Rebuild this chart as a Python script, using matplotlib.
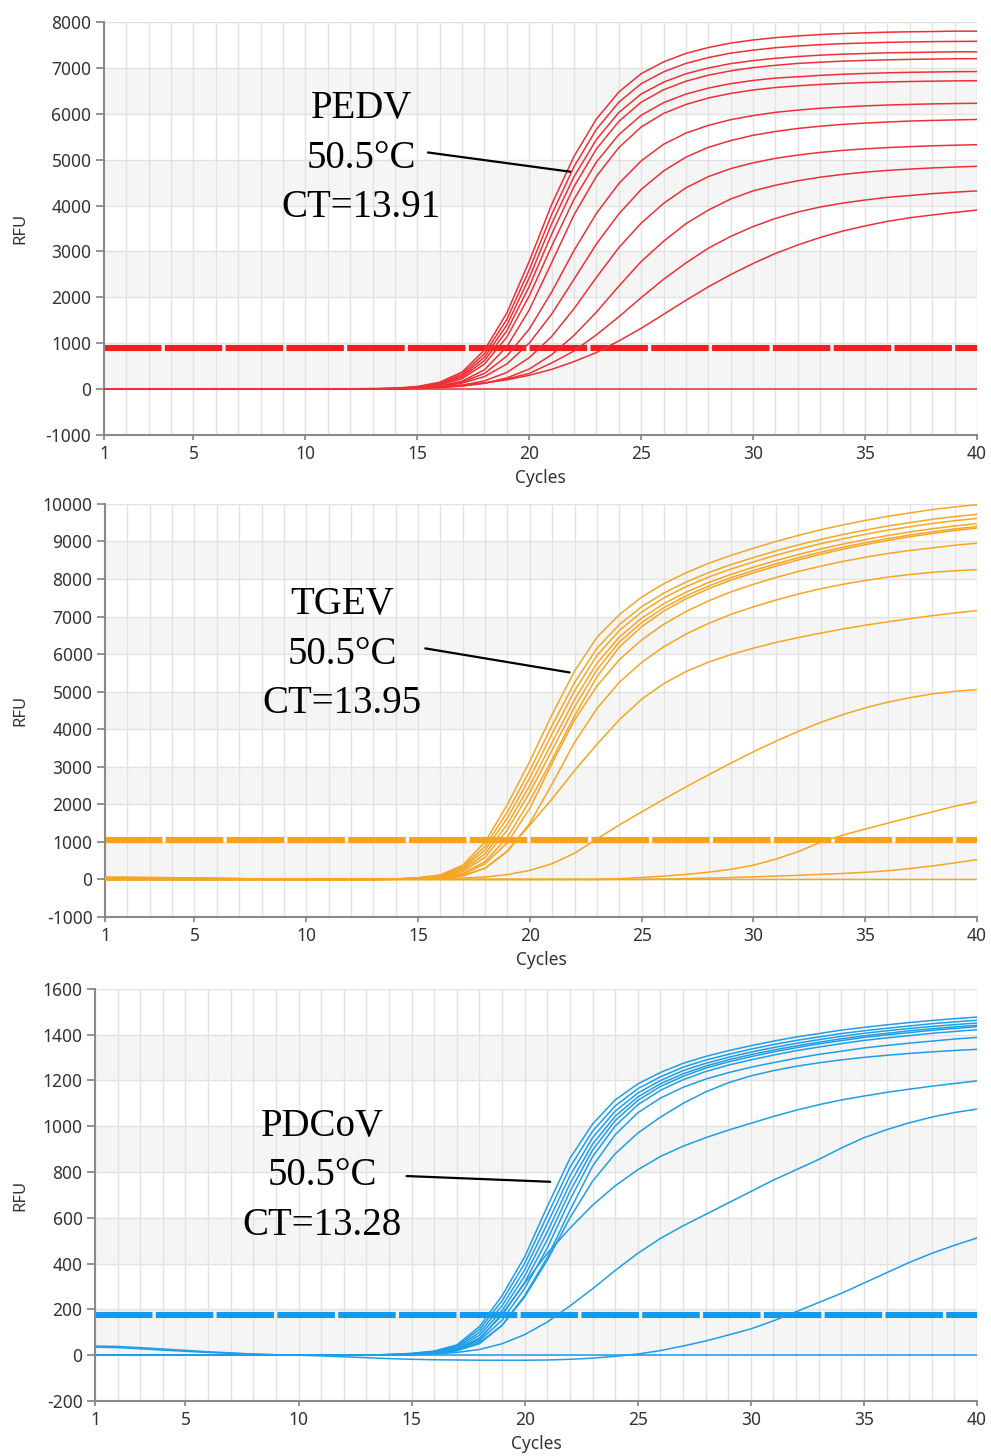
import matplotlib
matplotlib.use('Agg')
import matplotlib.pyplot as plt

plt.rcParams['font.family'] = ['Noto Sans', 'DejaVu Sans']
plt.rcParams['axes.unicode_minus'] = False

cycles = list(range(1, 41))

# PEDV amplification curves (RFU per cycle)
pedv_curves = [
    [0, 0, 0, 0, 0, 0, 0, 0, 0, 0, 0, 0, 5, 20, 58, 151, 373, 855, 1660, 2787, 4021, 5072, 5886, 6474, 6874, 7130, 7316, 7444, 7540, 7608, 7659, 7696, 7726, 7748, 7764, 7778, 7786, 7792, 7800, 7800],
    [0, 0, 0, 0, 0, 0, 0, 0, 0, 0, 0, 0, 4, 17, 50, 133, 331, 772, 1521, 2598, 3805, 4848, 5662, 6252, 6655, 6913, 7098, 7225, 7321, 7387, 7439, 7476, 7506, 7528, 7542, 7557, 7565, 7572, 7576, 7580],
    [0, 0, 0, 0, 0, 0, 0, 0, 0, 0, 0, 0, 4, 15, 44, 118, 294, 698, 1397, 2426, 3602, 4631, 5439, 6027, 6431, 6689, 6872, 6997, 7093, 7159, 7210, 7247, 7277, 7299, 7313, 7328, 7335, 7343, 7350, 7350],
    [0, 0, 0, 0, 0, 0, 0, 0, 0, 0, 0, 0, 3, 12, 39, 104, 262, 624, 1271, 2239, 3377, 4414, 5234, 5832, 6253, 6523, 6710, 6840, 6936, 7006, 7056, 7097, 7124, 7147, 7162, 7176, 7185, 7192, 7199, 7200],
    [0, 0, 0, 0, 0, 0, 0, 0, 0, 0, 0, 0, 3, 11, 33, 90, 228, 547, 1135, 2031, 3114, 4135, 4948, 5546, 5968, 6242, 6429, 6560, 6657, 6726, 6778, 6806, 6837, 6861, 6878, 6892, 6903, 6910, 6917, 6920],
    [0, 0, 0, 0, 0, 0, 0, 0, 0, 0, 0, 0, 3, 9, 24, 67, 175, 423, 927, 1727, 2755, 3797, 4637, 5262, 5712, 6008, 6203, 6344, 6444, 6518, 6572, 6609, 6639, 6662, 6680, 6693, 6703, 6710, 6717, 6720],
    [0, 0, 0, 0, 0, 0, 0, 0, 0, 0, 0, 0, 3, 10, 25, 63, 152, 344, 721, 1310, 2115, 3021, 3828, 4480, 4973, 5335, 5579, 5747, 5872, 5961, 6031, 6080, 6120, 6148, 6172, 6190, 6204, 6215, 6223, 6229],
    [0, 0, 0, 0, 0, 0, 0, 0, 0, 0, 0, 0, 3, 10, 25, 58, 131, 274, 549, 1003, 1634, 2395, 3162, 3817, 4351, 4755, 5056, 5269, 5416, 5531, 5614, 5680, 5729, 5769, 5797, 5821, 5841, 5855, 5866, 5876],
    [0, 0, 0, 0, 0, 0, 0, 0, 0, 0, 0, 0, 3, 8, 17, 40, 85, 181, 364, 686, 1147, 1753, 2435, 3082, 3618, 4047, 4387, 4631, 4806, 4931, 5029, 5101, 5158, 5202, 5237, 5263, 5284, 5302, 5315, 5326],
    [0, 0, 0, 0, 0, 0, 0, 0, 0, 0, 0, 0, 3, 7, 15, 32, 66, 128, 245, 438, 751, 1171, 1678, 2244, 2780, 3223, 3606, 3902, 4143, 4320, 4443, 4541, 4619, 4679, 4728, 4766, 4795, 4820, 4839, 4856],
    [0, 0, 0, 0, 0, 0, 0, 0, 0, 0, 0, 2, 6, 12, 23, 42, 74, 131, 221, 343, 570, 832, 1184, 1575, 1994, 2394, 2750, 3071, 3329, 3542, 3720, 3860, 3969, 4054, 4121, 4178, 4219, 4260, 4292, 4319],
    [0, 0, 0, 0, 0, 0, 0, 0, 0, 0, 4, 8, 14, 23, 37, 58, 90, 137, 203, 302, 431, 601, 798, 1050, 1326, 1630, 1936, 2230, 2497, 2738, 2957, 3142, 3305, 3444, 3557, 3656, 3734, 3795, 3851, 3902],
    [0, 0, 0, 0, 0, 0, 0, 0, 0, 0, 0, 0, 0, 0, 0, 0, 0, 0, 0, 0, 0, 0, 0, 0, 0, 0, 0, 0, 0, 0, 0, 0, 0, 0, 0, 0, 0, 0, 0, 0],
]

# TGEV amplification curves
tgev_curves = [
    [0, 0, 0, 0, 0, 0, 0, 0, 0, 0, 0, 0, 0, 15, 45, 120, 380, 1000, 2000, 3150, 4400, 5550, 6450, 7050, 7520, 7880, 8170, 8420, 8630, 8820, 9000, 9160, 9310, 9440, 9560, 9670, 9760, 9850, 9920, 9980],
    [0, 0, 0, 0, 0, 0, 0, 0, 0, 0, 0, 0, 0, 12, 39, 106, 332, 884, 1804, 2903, 4107, 5243, 6157, 6786, 7263, 7630, 7923, 8173, 8384, 8572, 8749, 8908, 9055, 9185, 9303, 9412, 9503, 9591, 9662, 9722],
    [0, 0, 0, 0, 0, 0, 0, 0, 0, 0, 0, 0, 0, 10, 35, 94, 291, 786, 1641, 2707, 3884, 5023, 5964, 6630, 7121, 7500, 7800, 8053, 8267, 8456, 8633, 8793, 8941, 9072, 9191, 9300, 9392, 9479, 9553, 9613],
    [0, 0, 0, 0, 0, 0, 0, 0, 0, 0, 0, 0, 0, 8, 30, 82, 250, 686, 1476, 2506, 3653, 4791, 5755, 6455, 6958, 7348, 7654, 7909, 8126, 8315, 8491, 8652, 8799, 8931, 9050, 9159, 9253, 9339, 9414, 9475],
    [0, 0, 0, 0, 0, 0, 0, 0, 0, 0, 0, 0, 0, 6, 26, 71, 212, 593, 1323, 2325, 3449, 4593, 5585, 6322, 6840, 7242, 7556, 7815, 8036, 8227, 8403, 8565, 8713, 8847, 8966, 9076, 9172, 9257, 9335, 9397],
    [0, 0, 0, 0, 0, 0, 0, 0, 0, 0, 0, 0, 0, 3, 20, 57, 162, 475, 1130, 2101, 3203, 4361, 5398, 6189, 6730, 7152, 7478, 7743, 7971, 8165, 8342, 8508, 8657, 8795, 8915, 9026, 9126, 9211, 9292, 9356],
    [0, 0, 0, 0, 0, 0, 0, 0, 0, 0, 0, 0, 0, 5, 15, 45, 130, 420, 980, 1900, 3100, 4250, 5150, 5850, 6380, 6800, 7140, 7420, 7660, 7860, 8040, 8200, 8340, 8470, 8580, 8680, 8760, 8830, 8900, 8955],
    [0, 0, 0, 0, 0, 0, 0, 0, 0, 0, 0, 0, 0, 4, 12, 35, 100, 300, 750, 1500, 2550, 3650, 4550, 5250, 5780, 6200, 6540, 6820, 7060, 7260, 7440, 7600, 7740, 7860, 7960, 8050, 8120, 8180, 8220, 8250],
    [0, 0, 0, 0, 0, 0, 0, 0, 0, 0, 0, 0, 0, 3, 10, 30, 90, 300, 760, 1450, 2150, 2900, 3600, 4250, 4800, 5220, 5540, 5790, 5990, 6160, 6310, 6440, 6560, 6670, 6770, 6860, 6945, 7025, 7095, 7160],
    [0, 0, 0, 0, 0, 0, 0, 0, 0, 0, 0, 0, 0, 5, 10, 20, 35, 65, 130, 240, 420, 700, 1080, 1450, 1800, 2140, 2470, 2790, 3100, 3400, 3680, 3940, 4180, 4390, 4570, 4720, 4840, 4940, 5010, 5055],
    [55, 52, 48, 42, 35, 27, 19, 12, 6, 2, 0, 0, 0, 0, 0, 0, 0, 0, 0, 0, 0, 0, 0, 20, 50, 90, 135, 195, 270, 380, 540, 740, 990, 1180, 1340, 1500, 1650, 1800, 1950, 2070],
    [60, 57, 53, 47, 40, 32, 24, 16, 9, 4, 1, 0, 0, 0, 0, 0, 0, 0, 0, 0, 0, 0, 0, 0, 0, 10, 20, 35, 50, 70, 90, 110, 135, 160, 190, 230, 290, 360, 440, 530],
    [50, 48, 45, 40, 34, 27, 20, 13, 7, 3, 0, 0, 0, 0, 0, 0, 0, 0, 0, 0, 0, 0, 0, 0, 0, 0, 0, 0, 0, 0, 0, 0, 0, 0, 0, 0, 0, 0, 0, 0],
]

# PDCoV amplification curves
pdcov_curves = [
    [0, 0, 0, 0, 0, 0, 0, 0, 0, 0, 0, 0, 0, 3, 8, 18, 45, 125, 260, 430, 650, 860, 1010, 1115, 1185, 1235, 1275, 1305, 1330, 1352, 1372, 1390, 1405, 1420, 1432, 1443, 1453, 1462, 1470, 1477],
    [0, 0, 0, 0, 0, 0, 0, 0, 0, 0, 0, 0, 0, 3, 7, 16, 41, 112, 238, 401, 611, 821, 979, 1089, 1164, 1216, 1258, 1289, 1314, 1337, 1357, 1375, 1390, 1405, 1417, 1428, 1438, 1448, 1456, 1463],
    [0, 0, 0, 0, 0, 0, 0, 0, 0, 0, 0, 0, 0, 2, 6, 15, 36, 99, 216, 373, 575, 784, 950, 1066, 1145, 1200, 1243, 1275, 1301, 1324, 1344, 1362, 1378, 1393, 1406, 1417, 1427, 1436, 1444, 1451],
    [0, 0, 0, 0, 0, 0, 0, 0, 0, 0, 0, 0, 0, 2, 6, 13, 32, 87, 195, 346, 539, 749, 922, 1044, 1128, 1186, 1229, 1263, 1290, 1313, 1333, 1351, 1367, 1382, 1395, 1406, 1417, 1426, 1434, 1441],
    [0, 0, 0, 0, 0, 0, 0, 0, 0, 0, 0, 0, 0, 1, 5, 12, 28, 75, 174, 319, 505, 715, 896, 1025, 1113, 1174, 1218, 1254, 1281, 1304, 1325, 1343, 1360, 1374, 1388, 1399, 1409, 1419, 1427, 1435],
    [0, 0, 0, 0, 0, 0, 0, 0, 0, 0, 0, 0, 0, 1, 4, 10, 24, 63, 153, 292, 469, 679, 867, 1001, 1094, 1157, 1203, 1239, 1267, 1290, 1311, 1330, 1346, 1361, 1375, 1386, 1396, 1406, 1414, 1422],
    [0, 0, 0, 0, 0, 0, 0, 0, 0, 0, 0, 0, 0, 0, 3, 8, 20, 50, 131, 261, 427, 633, 826, 963, 1059, 1123, 1170, 1206, 1234, 1258, 1278, 1297, 1314, 1328, 1342, 1353, 1363, 1372, 1381, 1388],
    [0, 0, 0, 0, 0, 0, 0, 0, 0, 0, 0, 0, 0, 1, 3, 8, 20, 55, 130, 255, 415, 600, 760, 880, 970, 1040, 1100, 1150, 1190, 1220, 1243, 1262, 1277, 1290, 1301, 1310, 1318, 1325, 1331, 1336],
    [0, 0, 0, 0, 0, 0, 0, 0, 0, 0, 0, 0, 0, 1, 3, 9, 25, 70, 180, 315, 445, 555, 655, 740, 810, 868, 913, 950, 983, 1013, 1043, 1070, 1094, 1115, 1132, 1148, 1162, 1175, 1187, 1198],
    [35, 33, 28, 22, 17, 12, 8, 4, 2, 0, 0, 0, 0, 0, 2, 5, 12, 25, 50, 90, 145, 215, 290, 370, 445, 510, 565, 615, 665, 715, 765, 810, 855, 905, 950, 985, 1015, 1040, 1060, 1075],
    [40, 38, 33, 27, 21, 15, 10, 5, 2, 0, -3, -7, -11, -15, -18, -20, -21, -22, -22, -22, -21, -18, -13, -5, 5, 20, 40, 62, 88, 115, 150, 190, 230, 270, 315, 360, 405, 445, 480, 512],
    [0, 0, 0, 0, 0, 0, 0, 0, 0, 0, 0, 0, 0, 0, 0, 0, 0, 0, 0, 0, 0, 0, 0, 0, 0, 0, 0, 0, 0, 0, 0, 0, 0, 0, 0, 0, 0, 0, 0, 0],
]

thresholds = [900, 1050, 175]
x_ticks = [1, 5, 10, 15, 20, 25, 30, 35, 40]
y_ticks_pedv = [-1000, 0, 1000, 2000, 3000, 4000, 5000, 6000, 7000, 8000]
y_ticks_tgev = [-1000, 0, 1000, 2000, 3000, 4000, 5000, 6000, 7000, 8000, 9000, 10000]
y_ticks_pdcov = [-200, 0, 200, 400, 600, 800, 1000, 1200, 1400, 1600]
labels = ['PEDV\n50.5°C\nCT=13.91', 'TGEV\n50.5°C\nCT=13.95', 'PDCoV\n50.5°C\nCT=13.28']

# layout / style per panel
panels = [
    dict(curves=pedv_curves, yticks=y_ticks_pedv, rect=[0.1049, 0.7012, 0.8809, 0.2837],
         color='#ee3036', thr_color='#f01e1e', text_xy=(12.5, 5035),
         line=((15.35, 5165), (21.95, 4730))),
    dict(curves=tgev_curves, yticks=y_ticks_tgev, rect=[0.1060, 0.3702, 0.8799, 0.2837],
         color='#f6a623', thr_color='#f8a11a', text_xy=(11.6, 6000),
         line=((15.2, 6165), (21.9, 5500))),
    dict(curves=pdcov_curves, yticks=y_ticks_pdcov, rect=[0.0959, 0.0378, 0.8900, 0.2830],
         color='#1e9ee8', thr_color='#119bf0', text_xy=(11.05, 783),
         line=((14.65, 783), (21.25, 757))),
]

fig = plt.figure(figsize=(9.91, 14.56), dpi=100)

for i, p in enumerate(panels):
    ax = fig.add_axes(p['rect'])
    yt = p['yticks']
    step = yt[1] - yt[0]

    # alternating light bands above zero
    for lo in yt:
        if lo >= 0 and (lo // step) % 2 == 0 and lo + step <= yt[-1]:
            ax.axhspan(lo, lo + step, color='#f5f5f5', lw=0, zorder=0)
    for c in cycles:
        ax.axvline(c, color='#e2e2e2', lw=1.0, zorder=0.5)
    for t in yt:
        ax.axhline(t, color='#e2e2e2', lw=1.0, zorder=0.5)

    ax.axhline(thresholds[i], color=p['thr_color'], lw=4.4, dashes=(9.4, 0.55), zorder=2)
    for vals in p['curves']:
        ax.plot(cycles, vals, color=p['color'], lw=1.1, zorder=3)

    ax.text(p['text_xy'][0], p['text_xy'][1], labels[i], family='Liberation Serif',
            fontsize=28, ha='center', va='center', linespacing=1.45, zorder=5)
    ax.annotate('', xy=p['line'][1], xytext=p['line'][0],
                arrowprops=dict(arrowstyle='-', color='black', lw=1.6), zorder=5)

    ax.set_xlim(1, 40)
    ax.set_ylim(yt[0], yt[-1])
    ax.set_xticks(x_ticks)
    ax.set_yticks(yt)
    ax.tick_params(axis='y', length=6, width=1.3, color='#8a8a8a', pad=3,
                   labelsize=12.5, labelcolor='#333333')
    ax.tick_params(axis='x', length=3.5, width=1.3, color='#8a8a8a', pad=4,
                   labelsize=12.5, labelcolor='#333333')
    for s in ['top', 'right']:
        ax.spines[s].set_visible(False)
    for s in ['left', 'bottom']:
        ax.spines[s].set_color('#8a8a8a')
        ax.spines[s].set_linewidth(1.5)

    ax.set_ylabel('RFU', fontsize=12, color='#333333')
    ax.set_xlabel('Cycles', fontsize=12.5, color='#333333')
    left_px = p['rect'][0] * 991
    ax.yaxis.set_label_coords((28 - left_px) / (p['rect'][2] * 991), 0.5)
    ax.xaxis.set_label_coords(0.5, -0.083)

fig.savefig('out.png', dpi=100)
